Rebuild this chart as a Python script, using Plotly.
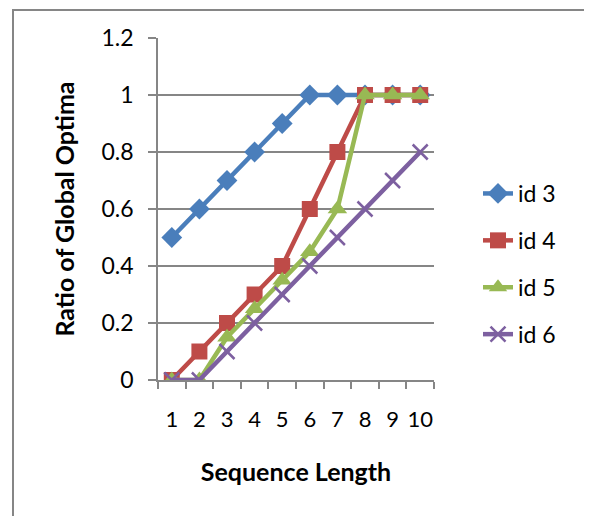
import plotly.graph_objects as go

x_labels = ["1", "2", "3", "4", "5", "6", "7", "8", "9", "10"]
id3 = [0.5, 0.6, 0.7, 0.8, 0.9, 1.0, 1.0, 1.0, 1.0, 1.0]
id4 = [0.0, 0.1, 0.2, 0.3, 0.4, 0.6, 0.8, 1.0, 1.0, 1.0]
id5 = [0.0, 0.0, 0.15, 0.25, 0.35, 0.45, 0.6, 1.0, 1.0, 1.0]
id6 = [0.0, 0.0, 0.1, 0.2, 0.3, 0.4, 0.5, 0.6, 0.7, 0.8]
y_ticks = [0, 0.2, 0.4, 0.6, 0.8, 1, 1.2]
y_tick_text = ["0", "0.2", "0.4", "0.6", "0.8", "1", "1.2"]

FONT = "Lato"

series = [
    ("id 3", id3, "#4A7EBB", "diamond", 16),
    ("id 4", id4, "#BE4B48", "square", 16),
    ("id 5", id5, "#98B954", "triangle-up", 17),
    ("id 6", id6, "#7D60A0", "x-thin-open", 15),
]

fig = go.Figure()
for name, vals, color, sym, sz in series:
    fig.add_trace(go.Scatter(
        x=x_labels, y=vals, name=name, mode="lines+markers",
        legendgroup=name,
        line=dict(color=color, width=4.5),
        marker=dict(symbol=sym, size=sz, color=color,
                    line=dict(color=color, width=2.5 if sym.startswith("x") else 0)),
    ))

OFF = 7  # page body offset
W, H = 592, 516
# target pixel positions in the window
px_left, px_right, px_top, px_bottom = 157, 433, 37, 379
L = px_left - OFF
T = px_top - OFF
R = W - (px_right - OFF)
B = H - (px_bottom - OFF)
pw, ph = W - L - R, H - T - B

def pxx(x):
    return (x - px_left) / pw

def pxy(y):
    return (px_bottom - y) / ph

TICK = 22
TITLE = 25

fig.update_layout(
    width=W, height=H,
    margin=dict(l=L, r=R, t=T, b=B, autoexpand=False),
    paper_bgcolor="white", plot_bgcolor="white",
    font=dict(family=FONT, size=TICK, color="#000000"),
    showlegend=True,
    legend=dict(x=pxx(477), y=pxy(263), xanchor="left", yanchor="middle",
                font=dict(size=23), traceorder="grouped", tracegroupgap=14,
                bgcolor="rgba(0,0,0,0)"),
    xaxis=dict(type="category", tickson="boundaries", ticks="outside", ticklen=7,
               tickmode="linear", tick0=0, dtick=1,
               tickcolor="#868686", tickwidth=1.5, showgrid=False, tickangle=0,
               automargin=False, ticklabelstandoff=19,
               showline=True, linecolor="#868686", linewidth=1.5,
               tickfont=dict(size=TICK), range=[-0.5, 9.5],
               title=dict(text="<b>Sequence Length</b>", font=dict(size=TITLE), standoff=32)),
    yaxis=dict(range=[0, 1.2], tickvals=y_ticks, ticktext=y_tick_text, automargin=False,
               ticks="outside", ticklen=8, tickcolor="#868686", tickwidth=1.5,
               ticklabelstandoff=10,
               showgrid=True, gridcolor="#868686", gridwidth=1.5,
               showline=True, linecolor="#868686", linewidth=1.5,
               zeroline=False, tickfont=dict(size=23),
               title=dict(text="<b>Ratio of Global Optima</b>", font=dict(size=TITLE), standoff=20)),
    shapes=[dict(type="rect", xref="paper", yref="paper",
                 x0=pxx(12), x1=pxx(W + 30),
                 y0=pxy(H + 30), y1=pxy(9),
                 line=dict(color="#868686", width=2), layer="below")],
)

fig.write_html("out.html")
